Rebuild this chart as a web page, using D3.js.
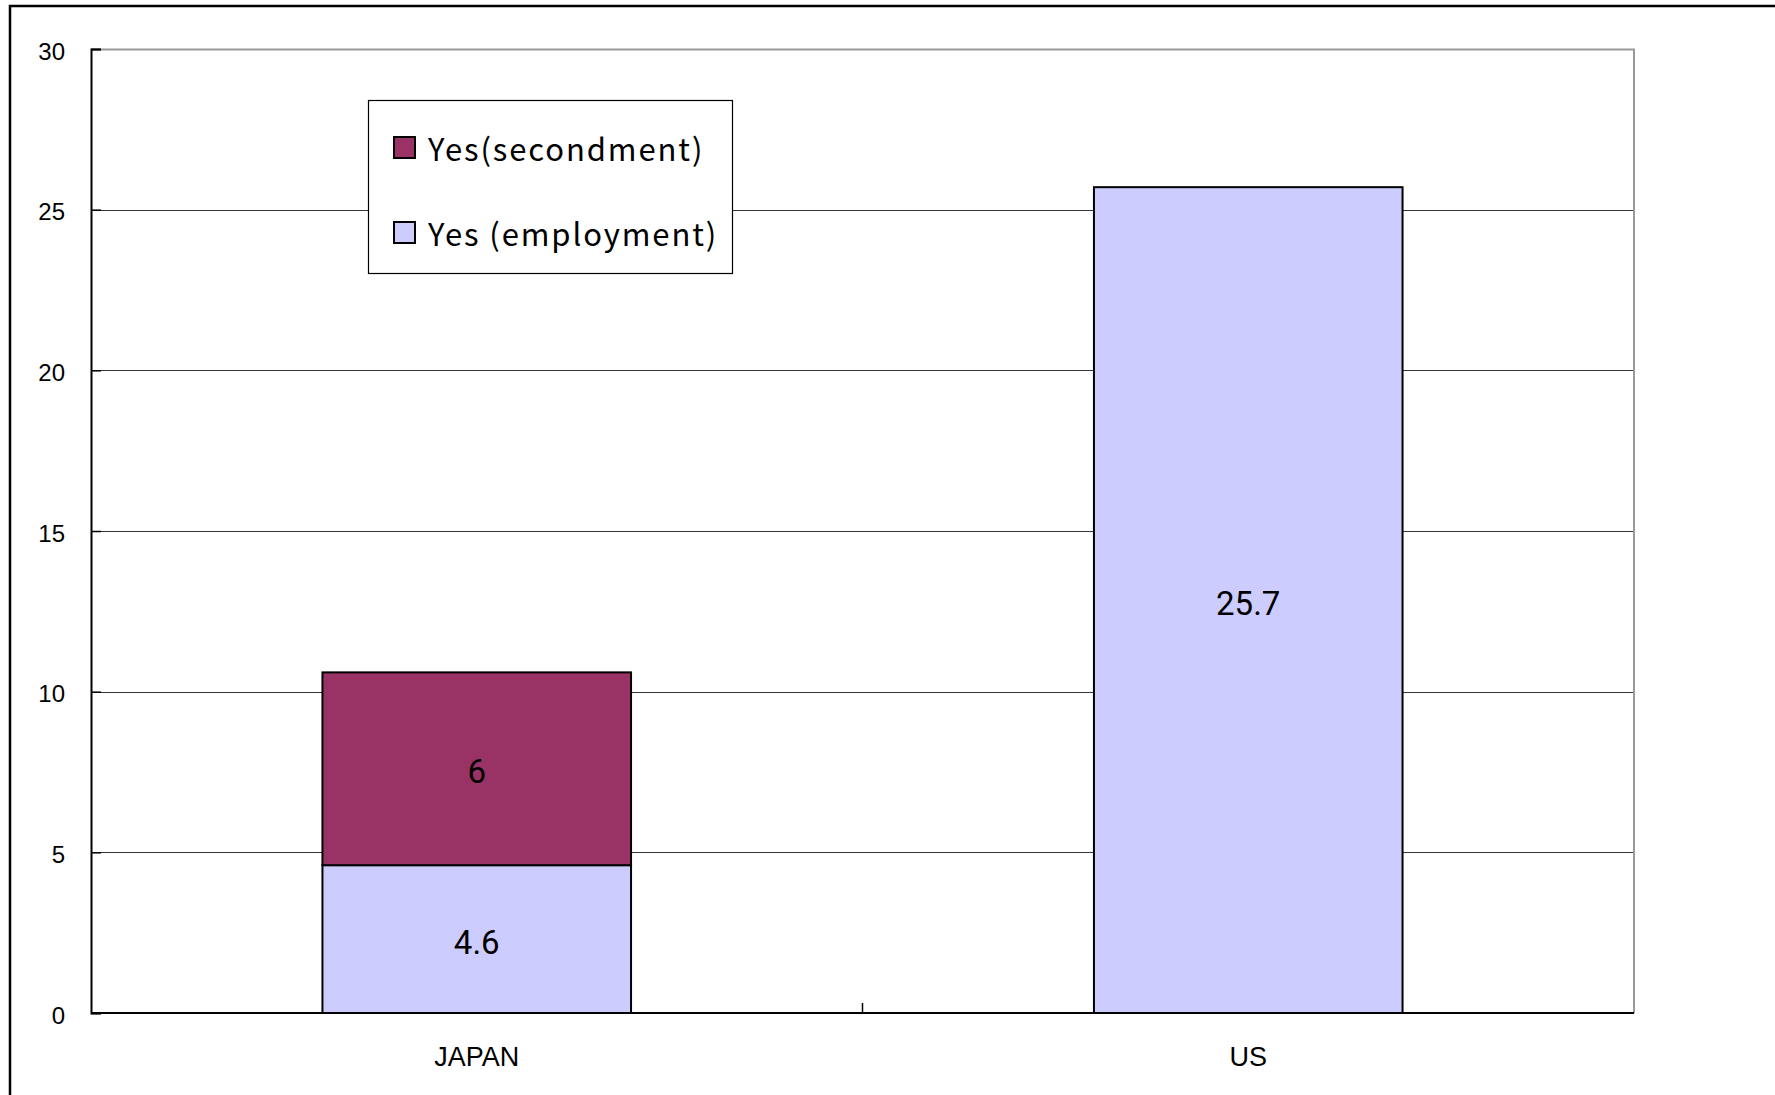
<!DOCTYPE html>
<html>
<head>
<meta charset="utf-8">
<script src="https://cdn.jsdelivr.net/npm/d3@7"></script>
<style>
html,body{margin:0;padding:0;background:#fff;}
svg{display:block;}
</style>
</head>
<body>
<svg id="chart" width="1775" height="1095"></svg>
<script>
const categories = ["JAPAN", "US"];
const seriesNames = ["Yes (employment)", "Yes(secondment)"];
const employment = [4.6, 25.7];
const secondment = [6, 0];
const yTicks = [0, 5, 10, 15, 20, 25, 30];
const legendLabels = ["Yes(secondment)", "Yes (employment)"];
const colors = {employment: "#CCCCFF", secondment: "#993366"};

const svg = d3.select("#chart");
const m = {left: 91, top: 49, right: 1634, bottom: 1013};

// outer frame (only top and left visible)
svg.append("rect").attr("x", 10).attr("y", 6).attr("width", 1900).attr("height", 1300)
  .attr("fill", "none").attr("stroke", "#000").attr("stroke-width", 2.5);

const x = d3.scaleBand().domain(categories).range([m.left, m.right]).paddingInner(0).paddingOuter(0);
const y = d3.scaleLinear().domain([0, 30]).range([m.bottom, m.top]);
const barFrac = 0.4;

// gridlines
svg.append("g").selectAll("line").data(yTicks.filter(d => d > 0 && d < 30)).join("line")
  .attr("x1", m.left).attr("x2", m.right)
  .attr("y1", d => Math.round(y(d)) + 0.5).attr("y2", d => Math.round(y(d)) + 0.5)
  .attr("stroke", "#333").attr("stroke-width", 1);

// plot top & right border
svg.append("path")
  .attr("d", `M${m.left},${m.top + 0.5}H${m.right}V${m.bottom}`)
  .attr("fill", "none").attr("stroke", "#9a9a9a").attr("stroke-width", 2);

// stacked data
const data = categories.map((c, i) => ({cat: c, employment: employment[i], secondment: secondment[i]}));
const stack = d3.stack().keys(["employment", "secondment"])(data);

const gBars = svg.append("g");
stack.forEach(layer => {
  gBars.selectAll(null).data(layer.filter(d => d[1] - d[0] > 0)).join("rect")
    .attr("x", d => x(d.data.cat) + x.bandwidth() * (1 - barFrac) / 2)
    .attr("width", x.bandwidth() * barFrac)
    .attr("y", d => y(d[1]))
    .attr("height", d => y(d[0]) - y(d[1]))
    .attr("fill", colors[layer.key])
    .attr("stroke", "#000").attr("stroke-width", 2);
});

// value labels
stack.forEach(layer => {
  gBars.selectAll(null).data(layer.filter(d => d[1] - d[0] > 0)).join("text")
    .attr("x", d => x(d.data.cat) + x.bandwidth() / 2)
    .attr("y", d => (y(d[0]) + y(d[1])) / 2 + 3)
    .attr("text-anchor", "middle").attr("dominant-baseline", "central")
    .attr("font-family", "Roboto, sans-serif").attr("font-size", 33)
    .attr("fill", "#000")
    .text(d => d.data[layer.key]);
});

// y axis
const yAxis = d3.axisLeft(y).tickValues(yTicks).tickSize(-10).tickPadding(26).tickFormat(d3.format("d"));
const gy = svg.append("g").attr("transform", `translate(${m.left},0)`).call(yAxis);
gy.select(".domain").attr("stroke", "#000").attr("stroke-width", 2);
gy.selectAll(".tick line").attr("stroke", "#000").attr("stroke-width", 1.5);
gy.selectAll(".tick text").attr("font-family", "'Liberation Sans', Arial, sans-serif")
  .attr("font-size", 24).attr("fill", "#000").attr("dy", "0.42em");

// x axis
const gx = svg.append("g").attr("transform", `translate(0,${m.bottom})`);
gx.append("line").attr("x1", m.left).attr("x2", m.right).attr("y1", 0).attr("y2", 0)
  .attr("stroke", "#000").attr("stroke-width", 2);
const xTickPositions = [m.left + x.step()];
gx.selectAll(null).data(xTickPositions).join("line")
  .attr("x1", d => d).attr("x2", d => d).attr("y1", 0).attr("y2", -10)
  .attr("stroke", "#000").attr("stroke-width", 1.5);
gx.selectAll(null).data(categories).join("text")
  .attr("x", d => x(d) + x.bandwidth() / 2)
  .attr("y", 44)
  .attr("dominant-baseline", "central")
  .attr("text-anchor", "middle")
  .attr("font-family", "'Liberation Sans', Arial, sans-serif").attr("font-size", 27)
  .attr("fill", "#000")
  .text(d => d);

// legend
const lg = svg.append("g");
lg.append("rect").attr("x", 368.5).attr("y", 100.5).attr("width", 364).attr("height", 173)
  .attr("fill", "#fff").attr("stroke", "#000").attr("stroke-width", 1.2);
const legendColors = [colors.secondment, colors.employment];
const legendY = [147, 232];
legendLabels.forEach((lab, i) => {
  lg.append("rect").attr("x", 394).attr("y", legendY[i] - 10).attr("width", 21).attr("height", 21)
    .attr("fill", legendColors[i]).attr("stroke", "#000").attr("stroke-width", 2);
  lg.append("text").attr("x", 428).attr("y", legendY[i])
    .attr("dominant-baseline", "central")
    .attr("font-family", "'Noto Sans CJK JP', sans-serif").attr("font-size", 31)
    .attr("letter-spacing", 1.9)
    .attr("fill", "#000")
    .text(lab);
});
</script>
</body>
</html>
